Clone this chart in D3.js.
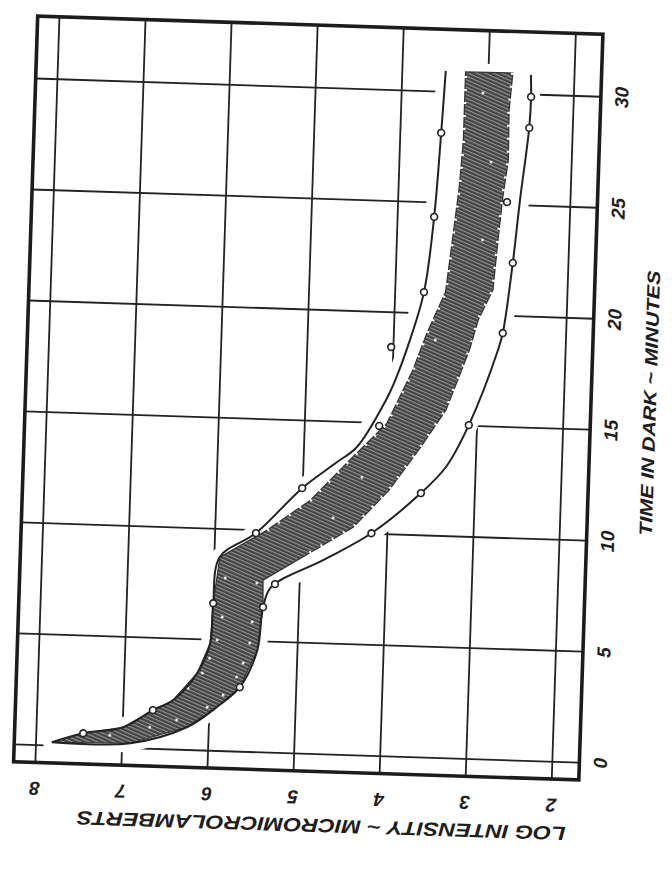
<!DOCTYPE html>
<html>
<head>
<meta charset="utf-8">
<script src="https://cdn.jsdelivr.net/npm/d3@7/dist/d3.min.js"></script>
<style>
  body { margin:0; background:#fff; }
  text { font-family:'Liberation Sans', Arial, sans-serif; font-style:italic; font-weight:bold; fill:#1e1e1e; }
</style>
</head>
<body>
<script>
// dark adaptation chart, the page is printed turned on its side
const timeTicks = [0, 5, 10, 15, 20, 25, 30];
const logTicks = [2, 3, 4, 5, 6, 7, 8];

// [minutes, log intensity]
const upperCurve = [[0.13,7.81],[0.58,7.45],[0.91,6.99],[1.72,6.65],[2.2,6.42],[3.45,6.15],[4.82,6.01],[6.62,5.99],[8.71,5.93],
  [9.84,5.52],[11.93,5.00],[13.11,4.62],[13.86,4.38],[16.02,4.06],[16.93,3.96],[18.43,3.83],[20.93,3.66],[24.33,3.57],[28.12,3.52],[30.92,3.49]];
const upperMarks = [[0.58,7.45],[1.72,6.65],[6.62,5.99],[9.84,5.52],[11.93,5.00],[20.93,3.66],[24.33,3.57],[28.12,3.52]];

const lowerCurve = [[0.13,7.81],[0.20,6.90],[1.00,6.25],[1.95,5.91],[2.88,5.65],[4.57,5.46],[6.52,5.41],[7.45,5.32],[8.72,4.73],
  [10.0,4.18],[11.88,3.62],[13.09,3.34],[15.01,3.09],[18.42,2.78],[19.2,2.73],[22.37,2.64],[25.21,2.58],[28.47,2.50],[29.87,2.49],[30.86,2.50]];
const lowerMarks = [[2.88,5.65],[6.52,5.41],[7.57,5.28],[10.0,4.18],[11.88,3.62],[15.01,3.09],[19.2,2.73],[22.37,2.64],[28.47,2.50],[29.87,2.49]];

const strayMarks = [[18.41,4.02],[14.84,4.13],[25.1,2.73]];

// shaded band of the group
const bandUpper = [[0.13,7.81],[0.58,7.45],[0.91,6.99],[1.72,6.65],[2.2,6.42],[3.45,6.15],[4.82,6.01],[6.62,5.99],[8.71,5.93],
  [9.99,5.39],[11.40,4.90],[13.26,4.46],[14.98,4.04],[17.41,3.76],[19.09,3.61],[20.96,3.41],[23.31,3.35],[25.71,3.29],[27.83,3.26],[30.9,3.26]];
const bandLower = [[0.20,6.90],[1.00,6.25],[1.95,5.91],[2.88,5.65],[4.57,5.46],[6.52,5.41],[7.73,5.42],[9.02,4.89],[10.25,4.39],
  [11.97,3.99],[13.95,3.64],[15.66,3.36],[18.39,3.11],[19.75,3.02],[21.13,2.86],[23.38,2.82],[25.33,2.78],[27.0,2.73],[29.25,2.74],[30.92,2.71]];
const bandDots = [[7.77,5.86],[7.59,5.49],[6.01,5.88],[5.83,5.53],[4.97,5.93],[4.88,5.55],[4.14,6.01],[3.97,5.62],[3.46,6.09],[3.33,5.69],
  [2.76,6.25],[2.50,5.84],[1.93,6.02],[1.31,6.37],[0.95,6.68],[0.53,7.14],[12.51,4.31],[10.63,4.63],[18.79,3.51],[23.36,3.00],[26.88,2.93],[29.98,3.05]];

let w = 672, h = 870;
let svg = d3.select('body').append('svg').attr('width', w).attr('height', h);

let pat = svg.append('defs').append('pattern')
  .attr('id', 'hatch').attr('patternUnits', 'userSpaceOnUse')
  .attr('width', 6).attr('height', 3.4).attr('patternTransform', 'rotate(22)');
pat.append('rect').attr('width', 6).attr('height', 3.4).attr('fill', '#434343');
pat.append('line').attr('x1', 0).attr('x2', 6).attr('y1', 0.6).attr('y2', 0.6)
  .attr('stroke', '#a8a8a8').attr('stroke-width', 0.9);

// the scan is a little askew
let g = svg.append('g').attr('transform', 'rotate(1.85,308,398)');

let fLeft = 25.5, fRight = 591, fTop = 25, fBottom = 771;
let x = d3.scaleLinear().domain([8.247, 1.68]).range([fLeft, fRight]);
let y = d3.scaleLinear().domain([-0.80, 32.79]).range([fBottom, fTop]);

// grid
g.append('g').attr('transform', `translate(${fLeft},0)`)
  .call(d3.axisLeft(y).tickValues(timeTicks).tickSize(-(fRight - fLeft)).tickFormat(''))
  .call(a => a.select('.domain').remove())
  .selectAll('line').attr('stroke', '#222').attr('stroke-width', 1.8);
g.append('g').attr('transform', `translate(0,${fTop})`)
  .call(d3.axisTop(x).tickValues(logTicks).tickSize(-(fBottom - fTop)).tickFormat(''))
  .call(a => a.select('.domain').remove())
  .selectAll('line').attr('stroke', '#222').attr('stroke-width', 1.8);

let line = d3.line().x(d => x(d[1])).y(d => y(d[0])).curve(d3.curveCatmullRom.alpha(0.5));
let poly = d3.line().x(d => x(d[1])).y(d => y(d[0])).curve(d3.curveLinearClosed);
let edge = d3.line().x(d => x(d[1])).y(d => y(d[0]));

// white clearing round the curves
g.append('path')
  .attr('d', poly(upperCurve.concat(lowerCurve.slice().reverse())))
  .attr('fill', '#fff').attr('stroke', '#fff').attr('stroke-width', 18).attr('stroke-linejoin', 'round');

// frame
g.append('rect').attr('x', fLeft).attr('y', fTop).attr('width', fRight - fLeft).attr('height', fBottom - fTop)
  .attr('fill', 'none').attr('stroke', '#1c1c1c').attr('stroke-width', 3.6);

// band
g.append('path')
  .attr('d', poly(bandUpper.concat(bandLower.slice().reverse())))
  .attr('fill', 'url(#hatch)').attr('stroke', '#333').attr('stroke-width', 1.2);

// stepped edges of the hand shading
[bandUpper.slice(9), bandLower.slice(7)].forEach(e => {
  g.append('path').attr('d', edge(e)).attr('fill', 'none')
    .attr('stroke', '#fff').attr('stroke-width', 3.5).attr('stroke-dasharray', '2 11');
});

g.selectAll('.dot').data(bandDots).enter().append('circle')
  .attr('class', 'dot').attr('cx', d => x(d[1])).attr('cy', d => y(d[0])).attr('r', 1.5)
  .attr('fill', '#e8e8e8');

// curves
[upperCurve, lowerCurve].forEach(c => {
  g.append('path').attr('d', line(c)).attr('fill', 'none').attr('stroke', '#222').attr('stroke-width', 2);
});

g.selectAll('.mark').data(upperMarks.concat(lowerMarks, strayMarks)).enter().append('circle')
  .attr('class', 'mark').attr('cx', d => x(d[1])).attr('cy', d => y(d[0])).attr('r', 3.4)
  .attr('fill', '#fff').attr('stroke', '#222').attr('stroke-width', 1.6);

// tick labels
let fontFix = s => s.style('font-size', '19px').style('font-family', "'Liberation Sans', Arial, sans-serif")
  .style('font-style', 'italic').style('font-weight', 'bold');

g.append('g').attr('transform', `translate(${fRight},0)`)
  .call(d3.axisRight(y).tickValues(timeTicks).tickFormat(d3.format('d')).tickSize(0).tickPadding(21))
  .call(a => a.select('.domain').remove())
  .selectAll('text')
  .attr('x', 21).attr('dy', null).attr('text-anchor', 'middle').attr('dominant-baseline', 'central')
  .attr('transform', 'rotate(-90,21,0)')
  .call(fontFix);

g.append('g').attr('transform', `translate(0,${fBottom})`)
  .call(d3.axisBottom(x).tickValues(logTicks).tickFormat(d3.format('d')).tickSize(0).tickPadding(26))
  .call(a => a.select('.domain').remove())
  .selectAll('text')
  .attr('y', 26).attr('dy', null).attr('text-anchor', 'middle').attr('dominant-baseline', 'central')
  .attr('transform', 'rotate(180,0,26)')
  .call(fontFix);

// axis titles
g.append('text').text('TIME IN DARK ~ MINUTES')
  .attr('text-anchor', 'middle').attr('dominant-baseline', 'central')
  .attr('transform', 'translate(650,392) rotate(-90)')
  .attr('textLength', 265).attr('lengthAdjust', 'spacingAndGlyphs')
  .style('font-size', '18px');

g.append('text').text('LOG INTENSITY ~ MICROMICROLAMBERTS')
  .attr('text-anchor', 'middle').attr('dominant-baseline', 'central')
  .attr('transform', 'translate(335,825) rotate(180)')
  .attr('textLength', 489).attr('lengthAdjust', 'spacingAndGlyphs')
  .style('font-size', '19px');
</script>
</body>
</html>
